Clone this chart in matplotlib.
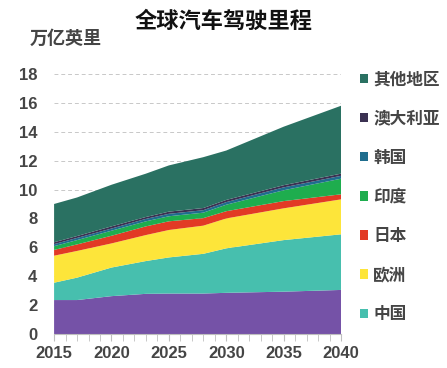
import matplotlib
matplotlib.use("Agg")
import matplotlib.pyplot as plt
from matplotlib.patches import Patch
from matplotlib.ticker import MultipleLocator

plt.rcParams['font.family'] = ['Noto Sans CJK SC', 'DejaVu Sans']

title = "全球汽车驾驶里程"
unit = "万亿英里"
years = [2015, 2017, 2020, 2023, 2025, 2028, 2030, 2035, 2040]
us      = [2.35, 2.35, 2.62, 2.78, 2.80, 2.80, 2.85, 2.93, 3.05]
china   = [1.20, 1.55, 1.98, 2.27, 2.50, 2.75, 3.08, 3.57, 3.85]
europe  = [1.87, 1.85, 1.67, 1.80, 1.90, 1.95, 2.07, 2.20, 2.42]
japan   = [0.40, 0.45, 0.53, 0.60, 0.60, 0.52, 0.50, 0.50, 0.35]
india   = [0.26, 0.30, 0.35, 0.35, 0.35, 0.38, 0.45, 0.75, 1.08]
korea   = [0.14, 0.15, 0.15, 0.17, 0.17, 0.17, 0.18, 0.20, 0.20]
austr   = [0.13, 0.13, 0.15, 0.13, 0.15, 0.15, 0.15, 0.15, 0.15]
other   = [2.65, 2.67, 2.88, 3.00, 3.20, 3.52, 3.42, 4.05, 4.70]

series = [us, china, europe, japan, india, korea, austr, other]
colors = ["#7552a7", "#47bfae", "#fde53a", "#e23a25", "#1ead4e",
          "#1f6d8e", "#3b3152", "#2a7162"]
legend_labels = ["其他地区", "澳大利亚", "韩国", "印度", "日本", "欧洲", "中国"]
legend_colors = ["#2a7162", "#3b3152", "#1f6d8e", "#1ead4e", "#e23a25", "#fde53a", "#47bfae"]

fig = plt.figure(figsize=(4.47, 3.68), dpi=100)
ax = fig.add_axes([0.121, 0.0924, 0.642, 0.7066])
ax.stackplot(years, *series, colors=colors, linewidth=0)
ax.set_xlim(2015, 2040)
ax.set_ylim(0, 18)
ax.yaxis.set_major_locator(MultipleLocator(2))
ax.xaxis.set_major_locator(MultipleLocator(5))
ax.xaxis.set_minor_locator(MultipleLocator(1))
ax.grid(axis='y', color='#c8c8c8', linestyle=(0, (4, 3)), linewidth=0.7)
ax.set_axisbelow(True)
for s in ['top', 'right', 'left']:
    ax.spines[s].set_visible(False)
ax.spines['bottom'].set_color('#bfbfbf')
ax.tick_params(axis='y', length=0, pad=12, labelsize=12, labelcolor='#454545')
ax.tick_params(axis='x', which='major', length=5, color='#bfbfbf', pad=4,
               labelsize=12, labelcolor='#454545')
ax.tick_params(axis='x', which='minor', length=5, color='#bfbfbf')
for lbl in ax.get_xticklabels() + ax.get_yticklabels():
    lbl.set_fontweight('bold')
    lbl.set_family(['Liberation Sans', 'DejaVu Sans'])

fig.text(0.5, 0.943, title, ha='center', va='center', fontsize=16,
         fontweight='bold', color='#111111')
fig.text(0.066, 0.895, unit, ha='left', va='center', fontsize=13,
         fontweight='bold', color='#454545')

handles = [Patch(facecolor=c, edgecolor='none') for c in legend_colors]
leg = fig.legend(handles, legend_labels, loc='upper left',
                 bbox_to_anchor=(0.772, 0.85), frameon=False,
                 handlelength=0.5, handleheight=0.5, handletextpad=0.3,
                 labelspacing=1.27, prop={'size': 12, 'weight': 'bold'})
for t in leg.get_texts():
    t.set_color('#454545')

fig.savefig("out.png", dpi=100)
